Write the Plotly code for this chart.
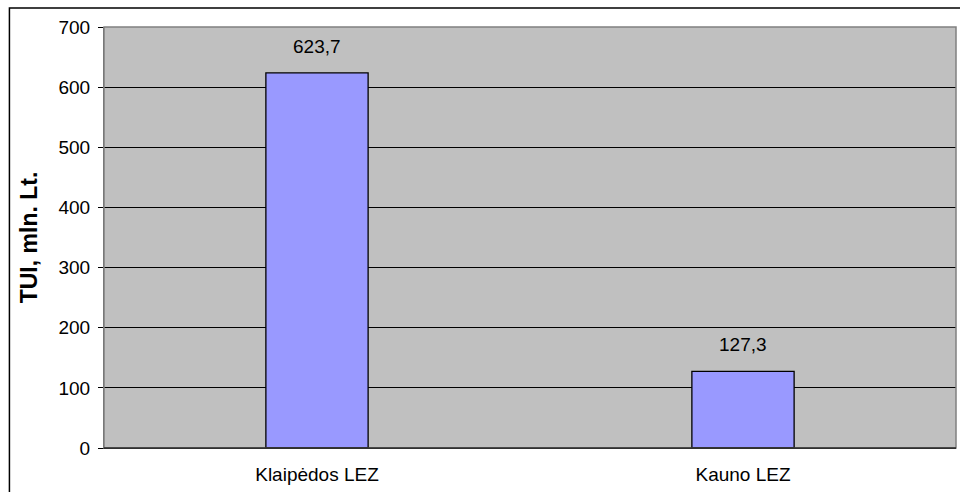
import plotly.graph_objs as go

categories = ["Klaipėdos LEZ", "Kauno LEZ"]
values = [623.7, 127.3]
y_ticks = [0, 100, 200, 300, 400, 500, 600, 700]

font = "Arial, Liberation Sans, sans-serif"

data = [go.Bar(x=categories, y=values, marker=dict(color="#9999FF", line=dict(color="black", width=1.3)),
               hoverinfo="x+y")]

# value labels above bars, placed by data coordinates
labels = [dict(x=c, y=v, text=f"{v:.1f}".replace(".", ","), showarrow=False, yanchor="bottom", yshift=14,
               font=dict(family=font, size=19, color="black")) for c, v in zip(categories, values)]

layout = go.Layout(
    width=960, height=492, separators=", ",
    paper_bgcolor="white", plot_bgcolor="#C0C0C0",
    margin=dict(l=104, r=4, t=27, b=44),
    font=dict(family=font, size=19, color="black"),
    bargap=0.76, showlegend=False,
    annotations=labels,
    xaxis=dict(showgrid=False, showline=True, linecolor="black", linewidth=1, ticks="",
               tickfont=dict(size=19), ticklabelstandoff=9),
    yaxis=dict(range=[0, 700], tickvals=y_ticks, showgrid=True, gridcolor="black", gridwidth=1,
               showline=True, linecolor="#606060", linewidth=1, ticks="outside", ticklen=5, tickcolor="black",
               tickfont=dict(size=19), zeroline=False, ticklabelstandoff=4,
               title=dict(text="<b>TUI, mln. Lt.</b>", font=dict(size=23), standoff=14)),
    shapes=[
        dict(type="rect", xref="paper", yref="paper", x0=0, x1=1, y0=0, y1=1,
             line=dict(color="#808080", width=1.5), layer="above"),
        dict(type="line", xref="paper", yref="paper", x0=0, x1=1, y0=0, y1=0,
             line=dict(color="black", width=1), layer="above"),
        dict(type="rect", xref="paper", yref="paper", x0=-0.111, x1=1.02, y0=-0.2, y1=1.045,
             line=dict(color="black", width=1.5)),
    ],
)

fig = go.Figure(data=data, layout=layout)
fig.write_html("out.html", config={"displayModeBar": False},
               post_script="document.body.style.margin = '0';")
